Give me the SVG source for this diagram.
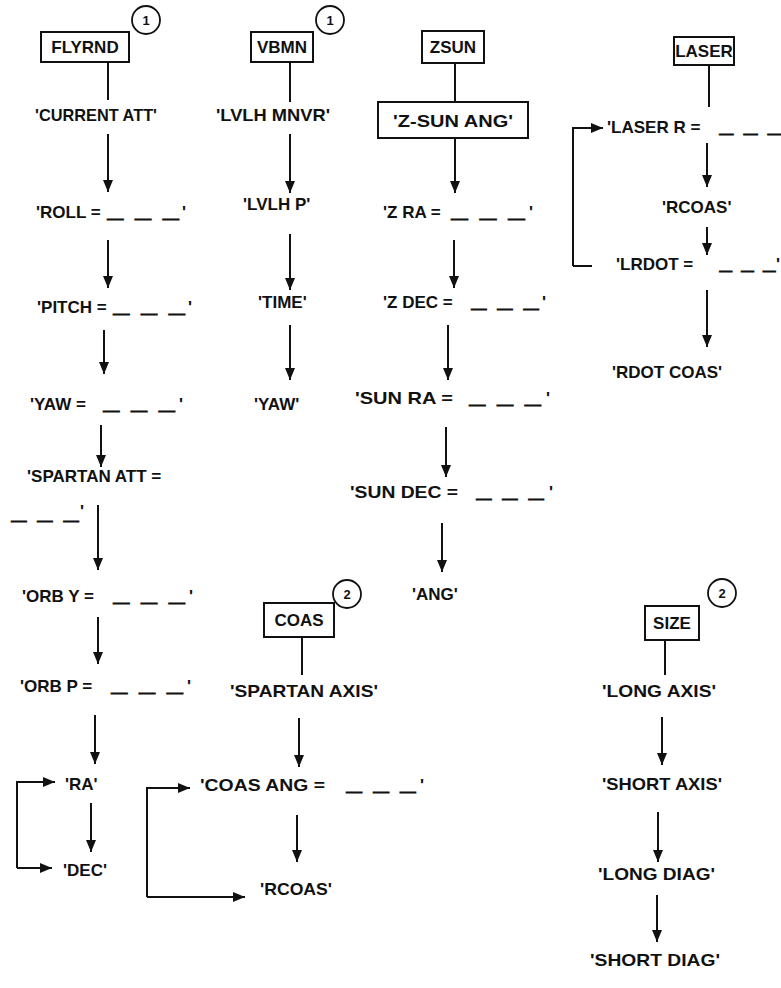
<svg xmlns="http://www.w3.org/2000/svg" width="781" height="988" viewBox="0 0 781 988">
<defs>
<marker id="ah" viewBox="0 0 12 10" markerWidth="12" markerHeight="10" refX="12" refY="5" orient="auto" markerUnits="userSpaceOnUse">
<path d="M0,0 L12,5 L0,10 Z" fill="#111"/>
</marker>
</defs>
<style>
text{font-family:"Liberation Sans",Arial,sans-serif;font-weight:bold;font-size:17px;fill:#111}
.c{text-anchor:middle}
.n{font-size:13px}
.u{stroke:#111;stroke-width:1.5}
.box{fill:#fff;stroke:#111;stroke-width:2}
.circ{fill:#fff;stroke:#111;stroke-width:1.8}
.ln{fill:none;stroke:#111;stroke-width:2}
.ar{fill:none;stroke:#111;stroke-width:2;marker-end:url(#ah)}
</style>
<rect width="781" height="988" fill="#fff"/>

<g id="connectors">
<path class="ln" d="M108,62 V100"/>
<path class="ar" d="M108,134 V192"/>
<path class="ar" d="M108,240 V288"/>
<path class="ar" d="M104,330 V374"/>
<path class="ar" d="M101,425 V467"/>
<path class="ar" d="M98,505 V570"/>
<path class="ar" d="M98,617 V664"/>
<path class="ar" d="M95,715 V764"/>
<path class="ar" d="M91,803 V852"/>
<path class="ar" d="M17,868 V782 H55"/>
<path class="ar" d="M17,868 H52"/>

<path class="ln" d="M290,62 V102"/>
<path class="ar" d="M290,134 V193"/>
<path class="ar" d="M290,234 V290"/>
<path class="ar" d="M290,325 V380"/>

<path class="ln" d="M455,63 V102"/>
<path class="ar" d="M455,138 V193"/>
<path class="ar" d="M454,240 V288"/>
<path class="ar" d="M448,325 V380"/>
<path class="ar" d="M446,427 V477"/>
<path class="ar" d="M442,523 V572"/>

<path class="ln" d="M709,65 V107"/>
<path class="ar" d="M573,266 V128 H603"/>
<path class="ln" d="M573,266 H592"/>
<path class="ar" d="M707,143 V187"/>
<path class="ar" d="M707,227 V255"/>
<path class="ar" d="M707,290 V347"/>

<path class="ln" d="M302,637 V675"/>
<path class="ar" d="M299,718 V767"/>
<path class="ar" d="M297,815 V862"/>
<path class="ar" d="M147,897 V788 H190"/>
<path class="ar" d="M147,897 H245"/>

<path class="ln" d="M665,640 V675"/>
<path class="ar" d="M662,717 V765"/>
<path class="ar" d="M658,812 V862"/>
<path class="ar" d="M657,895 V942"/>
</g>

<g id="flyrnd">
<rect class="box" x="41" y="32" width="88" height="30"/>
<text class="c" x="85" y="53">FLYRND</text>
<circle class="circ" cx="146" cy="20" r="14"/>
<text class="c n" x="146" y="25">1</text>
</g>
<g id="n-current-att"><text x="35" y="121" textLength="122" lengthAdjust="spacingAndGlyphs">'CURRENT ATT'</text></g>
<g id="n-roll"><text x="36" y="218">'ROLL = <tspan class="u" x="108" textLength="70" lengthAdjust="spacingAndGlyphs">_&#8194;_&#8194;_</tspan><tspan x="182">'</tspan></text></g>
<g id="n-pitch"><text x="37" y="313">'PITCH = <tspan class="u" x="114" textLength="70" lengthAdjust="spacingAndGlyphs">_&#8194;_&#8194;_</tspan><tspan x="188">'</tspan></text></g>
<g id="n-yaw"><text x="30" y="410">'YAW = <tspan class="u" x="104" textLength="70" lengthAdjust="spacingAndGlyphs">_&#8194;_&#8194;_</tspan><tspan x="179">'</tspan></text></g>
<g id="n-spartan-att"><text x="27" y="482">'SPARTAN ATT =</text><text x="12" y="520"><tspan class="u" textLength="66" lengthAdjust="spacingAndGlyphs">_&#8194;_&#8194;_</tspan><tspan x="80" y="517">'</tspan></text></g>
<g id="n-orb-y"><text x="22" y="602">'ORB Y = <tspan class="u" x="114" textLength="70" lengthAdjust="spacingAndGlyphs">_&#8194;_&#8194;_</tspan><tspan x="189">'</tspan></text></g>
<g id="n-orb-p"><text x="20" y="692">'ORB P = <tspan class="u" x="112" textLength="70" lengthAdjust="spacingAndGlyphs">_&#8194;_&#8194;_</tspan><tspan x="187">'</tspan></text></g>
<g id="n-ra"><text x="65" y="790">'RA'</text></g>
<g id="n-dec"><text x="63" y="876">'DEC'</text></g>

<g id="vbmn">
<rect class="box" x="251" y="32" width="62" height="30"/>
<text class="c" x="282" y="53">VBMN</text>
<circle class="circ" cx="330" cy="20" r="14"/>
<text class="c n" x="330" y="25">1</text>
</g>
<g id="n-lvlh-mnvr"><text x="216" y="121" textLength="114" lengthAdjust="spacingAndGlyphs">'LVLH MNVR'</text></g>
<g id="n-lvlh-p"><text x="243" y="210">'LVLH P'</text></g>
<g id="n-time"><text x="258" y="308">'TIME'</text></g>
<g id="n-yaw2"><text x="254" y="410">'YAW'</text></g>

<g id="zsun">
<rect class="box" x="422" y="31" width="62" height="32"/>
<text class="c" x="453" y="53">ZSUN</text>
</g>
<g id="n-z-sun-ang">
<rect class="box" x="378" y="102" width="150" height="36"/>
<text class="c" x="453" y="127" textLength="120" lengthAdjust="spacingAndGlyphs">'Z-SUN ANG'</text>
</g>
<g id="n-z-ra"><text x="383" y="218">'Z RA = <tspan class="u" x="452" textLength="72" lengthAdjust="spacingAndGlyphs">_&#8194;_&#8194;_</tspan><tspan x="529">'</tspan></text></g>
<g id="n-z-dec"><text x="383" y="308">'Z DEC = <tspan class="u" x="472" textLength="66" lengthAdjust="spacingAndGlyphs">_&#8194;_&#8194;_</tspan><tspan x="542">'</tspan></text></g>
<g id="n-sun-ra"><text x="355" y="404"><tspan textLength="98" lengthAdjust="spacingAndGlyphs">'SUN RA =</tspan><tspan class="u" x="470" textLength="70" lengthAdjust="spacingAndGlyphs">_&#8194;_&#8194;_</tspan><tspan x="546">'</tspan></text></g>
<g id="n-sun-dec"><text x="350" y="498"><tspan textLength="108" lengthAdjust="spacingAndGlyphs">'SUN DEC =</tspan><tspan class="u" x="477" textLength="66" lengthAdjust="spacingAndGlyphs">_&#8194;_&#8194;_</tspan><tspan x="549">'</tspan></text></g>
<g id="n-ang"><text x="412" y="600">'ANG'</text></g>

<g id="laser">
<rect class="box" x="674" y="37" width="60" height="28"/>
<text class="c" x="704" y="57">LASER</text>
</g>
<g id="n-laser-r"><text x="607" y="133">'LASER R = <tspan class="u" x="720" textLength="61" lengthAdjust="spacingAndGlyphs">_&#8194;_&#8194;_</tspan></text></g>
<g id="n-rcoas1"><text x="662" y="213">'RCOAS'</text></g>
<g id="n-lrdot"><text x="616" y="270">'LRDOT = <tspan class="u" x="720" textLength="55" lengthAdjust="spacingAndGlyphs">_&#8194;_&#8194;_</tspan><tspan x="776">'</tspan></text></g>
<g id="n-rdot-coas"><text x="612" y="378">'RDOT COAS'</text></g>

<g id="coas">
<rect class="box" x="264" y="603" width="70" height="34"/>
<text class="c" x="299" y="626">COAS</text>
<circle class="circ" cx="347" cy="594" r="14"/>
<text class="c n" x="347" y="599">2</text>
</g>
<g id="n-spartan-axis"><text x="230" y="697" textLength="148" lengthAdjust="spacingAndGlyphs">'SPARTAN AXIS'</text></g>
<g id="n-coas-ang"><text x="200" y="791"><tspan textLength="125" lengthAdjust="spacingAndGlyphs">'COAS ANG =</tspan><tspan class="u" x="347" textLength="68" lengthAdjust="spacingAndGlyphs">_&#8194;_&#8194;_</tspan><tspan x="420">'</tspan></text></g>
<g id="n-rcoas2"><text x="260" y="895" textLength="72" lengthAdjust="spacingAndGlyphs">'RCOAS'</text></g>

<g id="size">
<rect class="box" x="645" y="606" width="54" height="34"/>
<text class="c" x="672" y="629">SIZE</text>
<circle class="circ" cx="722" cy="593" r="14"/>
<text class="c n" x="722" y="598">2</text>
</g>
<g id="n-long-axis"><text x="602" y="697" textLength="114" lengthAdjust="spacingAndGlyphs">'LONG AXIS'</text></g>
<g id="n-short-axis"><text x="602" y="790" textLength="120" lengthAdjust="spacingAndGlyphs">'SHORT AXIS'</text></g>
<g id="n-long-diag"><text x="598" y="880" textLength="117" lengthAdjust="spacingAndGlyphs">'LONG DIAG'</text></g>
<g id="n-short-diag"><text x="590" y="966" textLength="130" lengthAdjust="spacingAndGlyphs">'SHORT DIAG'</text></g>
</svg>
